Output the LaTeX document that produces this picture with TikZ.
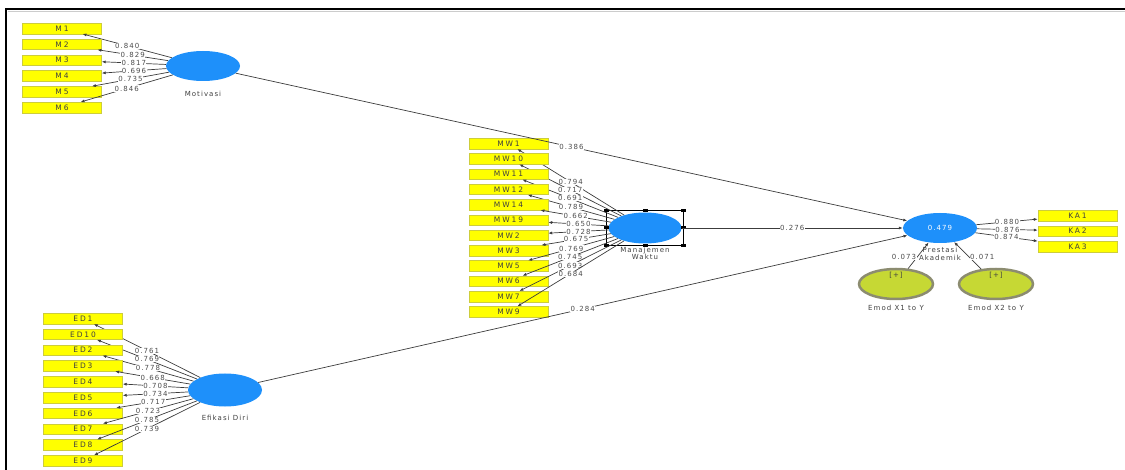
\documentclass[tikz,border=0pt]{standalone}
\usepackage{fontspec}
\newfontfamily\plsfont[LetterSpace=15]{DejaVu Sans}
\newfontfamily\boxfont[LetterSpace=25]{DejaVu Sans}
\usetikzlibrary{arrows.meta,positioning,shapes.geometric,fit}
\definecolor{latent}{RGB}{30,144,250}
\definecolor{indfill}{RGB}{255,255,0}
\definecolor{inddraw}{RGB}{205,205,60}
\definecolor{modfill}{RGB}{198,216,52}
\definecolor{moddraw}{RGB}{140,140,112}
\definecolor{edgecol}{RGB}{60,60,60}

\begin{document}
\begin{tikzpicture}[x=1pt,y=-1pt,
  font=\plsfont\fontsize{7}{7.5}\selectfont,
  ind/.style={draw=inddraw,fill=indfill,minimum width=79pt,minimum height=10.5pt,inner sep=0pt,text=black!75,font=\boxfont\fontsize{7.5}{8}\selectfont},
  lv/.style={ellipse,fill=latent,minimum width=74pt,minimum height=30pt,inner sep=0pt,text=white},
  mod/.style={ellipse,draw=moddraw,line width=2.5pt,fill=modfill,minimum width=74pt,minimum height=30pt,inner sep=0pt},
  load/.style={-{Latex[length=4pt,width=3pt]},draw=edgecol,line width=0.7pt},
  val/.style={fill=white,inner sep=0.4pt,text=black!70,font=\plsfont\fontsize{7}{7.5}\selectfont},
  lvname/.style={text=black!75,align=center,inner sep=1pt}
]
\useasboundingbox (0,0) rectangle (1125,470);
% frame of the screenshot
\draw[line width=2.5pt] (6,470) -- (6,9) -- (1125,9);
\draw[black!20,line width=1pt] (8,11.5) -- (1125,11.5);

% latent variables
\node[lv] (mot) at (203,66) {};
\node[lvname,below=9pt of mot] (motname) {Motivasi};
\node[lv,minimum width=73pt,minimum height=31pt] (mw) at (645,228) {};
\node[lvname,below=2pt of mw] (mwname) {Manajemen\\Waktu};
\node[lv,minimum height=33pt] (ed) at (225,390) {};
\node[lvname,below=7pt of ed] (edname) {Efikasi Diri};
\node[lv] (ka) at (940,228) {0.479};
\node[lvname,below=3pt of ka] (kaname) {Prestasi\\Akademik};

% moderating effects
\node[mod] (emodA) at (896,284) {};
\node[text=black!75,below=1pt of emodA.north] (plusA) {[+]};
\node[lvname,below=4pt of emodA] (emodAname) {Emod X1 to Y};
\node[mod] (emodB) at (996,284) {};
\node[text=black!75,below=1pt of emodB.north] (plusB) {[+]};
\node[lvname,below=4pt of emodB] (emodBname) {Emod X2 to Y};

% selection frame on Manajemen Waktu
\node[draw=black,line width=0.7pt,inner sep=1.5pt,fit=(mw)] (sel) {};
\foreach \a in {north west,north,north east,west,east,south west,south,south east}
  \fill[black] ([xshift=-2.5pt,yshift=1.5pt]sel.\a) rectangle ++(5,3);

% indicators
\foreach \lab/\val [count=\i from 0] in {M1/0.840,M2/0.829,M3/0.817,M4/0.696,M5/0.735,M6/0.846}{
  \node[ind] (\lab) at (62,28.5+15.8*\i) {\lab};
  \draw[load] (mot) -- node[val]{\val} (\lab);
}
\foreach \lab/\val [count=\i from 0] in {MW1/0.794,MW10/0.717,MW11/0.691,MW12/0.789,MW14/0.662,MW19/0.650,MW2/0.728,MW3/0.675,MW5/0.769,MW6/0.745,MW7/0.693,MW9/0.684}{
  \node[ind] (\lab) at (508.5,143.5+15.3*\i) {\lab};
  \draw[load] (mw) -- node[val]{\val} (\lab);
}
\foreach \lab/\val [count=\i from 0] in {ED1/0.761,ED10/0.769,ED2/0.778,ED3/0.668,ED4/0.708,ED5/0.734,ED6/0.717,ED7/0.723,ED8/0.785,ED9/0.739}{
  \node[ind] (\lab) at (83,318.5+15.8*\i) {\lab};
  \draw[load] (ed) -- node[val]{\val} (\lab);
}
\foreach \lab/\val [count=\i from 0] in {KA1/0.880,KA2/0.876,KA3/0.874}{
  \node[ind] (\lab) at (1077.5,215.5+15.5*\i) {\lab};
  \draw[load] (ka) -- node[val]{\val} (\lab);
}

% structural paths
\draw[load] (mot) -- node[val]{0.386} (ka);
\draw[load] (mw) -- node[val]{0.276} (ka);
\draw[load] (ed) -- node[val]{0.284} (ka);
\draw[load] (emodA) -- node[val,left=0.5pt,pos=0.45]{0.073} (ka);
\draw[load] (emodB) -- node[val,right=0.5pt,pos=0.45]{0.071} (ka);
\end{tikzpicture}
\end{document}
